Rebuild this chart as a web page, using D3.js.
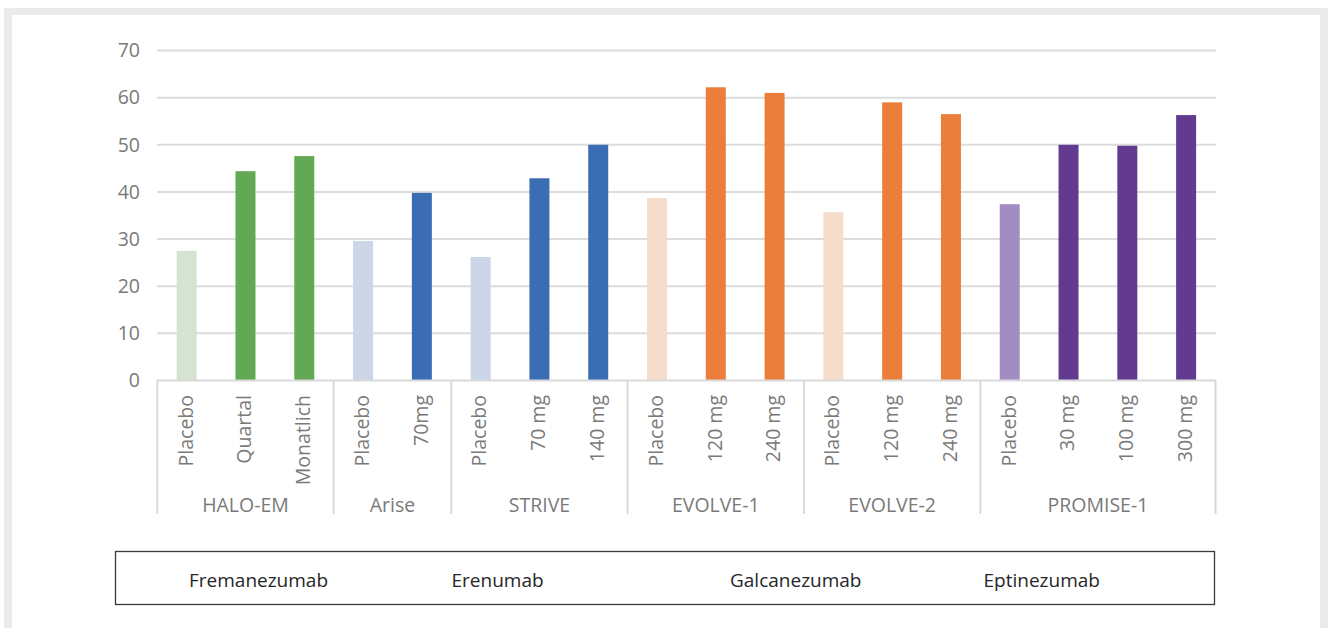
<!DOCTYPE html>
<html><head><meta charset="utf-8">
<script src="https://cdn.jsdelivr.net/npm/d3@7"></script>
<style>html,body{margin:0;padding:0;background:#fff;}svg{display:block;}</style>
</head><body>
<svg id="c" width="1328" height="628"></svg>
<script>
const categories = ["Placebo","Quartal","Monatlich","Placebo","70mg","Placebo","70 mg","140 mg","Placebo","120 mg","240 mg","Placebo","120 mg","240 mg","Placebo","30 mg","100 mg","300 mg"];
const studies = ["HALO-EM","HALO-EM","HALO-EM","Arise","Arise","STRIVE","STRIVE","STRIVE","EVOLVE-1","EVOLVE-1","EVOLVE-1","EVOLVE-2","EVOLVE-2","EVOLVE-2","PROMISE-1","PROMISE-1","PROMISE-1","PROMISE-1"];
const values = [27.5,44.4,47.6,29.6,39.8,26.2,42.9,50.0,38.7,62.2,61.0,35.7,59.0,56.5,37.4,50.0,49.8,56.3];
const drugs = ["Fremanezumab","Fremanezumab","Fremanezumab","Erenumab","Erenumab","Erenumab","Erenumab","Erenumab","Galcanezumab","Galcanezumab","Galcanezumab","Galcanezumab","Galcanezumab","Galcanezumab","Eptinezumab","Eptinezumab","Eptinezumab","Eptinezumab"];
const legendLabels = ["Fremanezumab","Erenumab","Galcanezumab","Eptinezumab"];
const yTicks = [0,10,20,30,40,50,60,70];
const drugColors = {Fremanezumab:["#d5e4d0","#63a953"],Erenumab:["#cbd7e8","#3b6db5"],Galcanezumab:["#f6ddcb","#ec7e3b"],Eptinezumab:["#a18dc2","#623b91"]};

const svg = d3.select("#c");
const font = "'Open Sans', 'Noto Sans', sans-serif";
// frame
svg.append("rect").attr("x",4).attr("y",8).attr("width",1324).attr("height",640).attr("fill","#ebebed");
svg.append("rect").attr("x",12).attr("y",15).attr("width",1308).attr("height",640).attr("fill","#fff");

const x = d3.scaleBand().domain(d3.range(categories.length)).range([157.3,1215.5]).paddingInner(0.66).paddingOuter(0.33);
const y = d3.scaleLinear().domain([0,70]).range([380.5,50.5]);
const step = x.step();
const x0 = 157.3;

// gridlines
svg.append("g").selectAll("line").data(yTicks.filter(d=>d>0)).join("line")
  .attr("x1",157).attr("x2",1216).attr("y1",d=>y(d)).attr("y2",d=>y(d))
  .attr("stroke","#dcdcdc").attr("stroke-width",2);
// y labels
svg.append("g").selectAll("text").data(yTicks).join("text")
  .attr("x",140).attr("y",d=>y(d)).attr("dy","0.35em").attr("text-anchor","end")
  .attr("font-family",font).attr("font-size",19.5).attr("fill","#7a7a7a").text(d=>d);

// bars
svg.append("g").selectAll("rect").data(values).join("rect")
  .attr("x",(d,i)=>x(i)).attr("width",x.bandwidth())
  .attr("y",d=>y(d)).attr("height",d=>y(0)-y(d))
  .attr("fill",(d,i)=>drugColors[drugs[i]][categories[i]==="Placebo"?0:1]);

// axis baseline
svg.append("line").attr("x1",157).attr("x2",1216).attr("y1",y(0)).attr("y2",y(0)).attr("stroke","#d9d9d9").attr("stroke-width",2);

// group boundaries
const groups = [];
studies.forEach((s,i)=>{ if(!groups.length||groups[groups.length-1].name!==s) groups.push({name:s,start:i,end:i}); else groups[groups.length-1].end=i; });
const bounds = [0].concat(groups.map(g=>g.end+1));
svg.append("g").selectAll("line").data(bounds).join("line")
  .attr("x1",d=>x0+d*step).attr("x2",d=>x0+d*step).attr("y1",y(0)).attr("y2",514)
  .attr("stroke","#d9d9d9").attr("stroke-width",2);

// category labels
svg.append("g").selectAll("text").data(categories).join("text")
  .attr("transform",(d,i)=>`translate(${x(i)+x.bandwidth()/2-1},395) rotate(-90)`)
  .attr("dy","0.35em").attr("text-anchor","end")
  .attr("font-family",font).attr("font-size",19.5).attr("fill","#7a7a7a").text(d=>d);

// group labels
svg.append("g").selectAll("text").data(groups).join("text")
  .attr("x",g=>x0+(g.start+g.end+1)/2*step).attr("y",511.5).attr("text-anchor","middle")
  .attr("font-family",font).attr("font-size",19.5).attr("fill","#7a7a7a").text(g=>g.name);

// legend
svg.append("rect").attr("x",115.5).attr("y",551.5).attr("width",1099).attr("height",53)
  .attr("fill","#fff").attr("stroke","#3a3a3a").attr("stroke-width",1.3);
const legendX = [189,451.5,730,983.5];
svg.append("g").selectAll("text").data(legendLabels).join("text")
  .attr("x",(d,i)=>legendX[i]).attr("y",587).attr("font-family",font).attr("font-size",19)
  .attr("fill","#262626").text(d=>d);
</script>
</body></html>
